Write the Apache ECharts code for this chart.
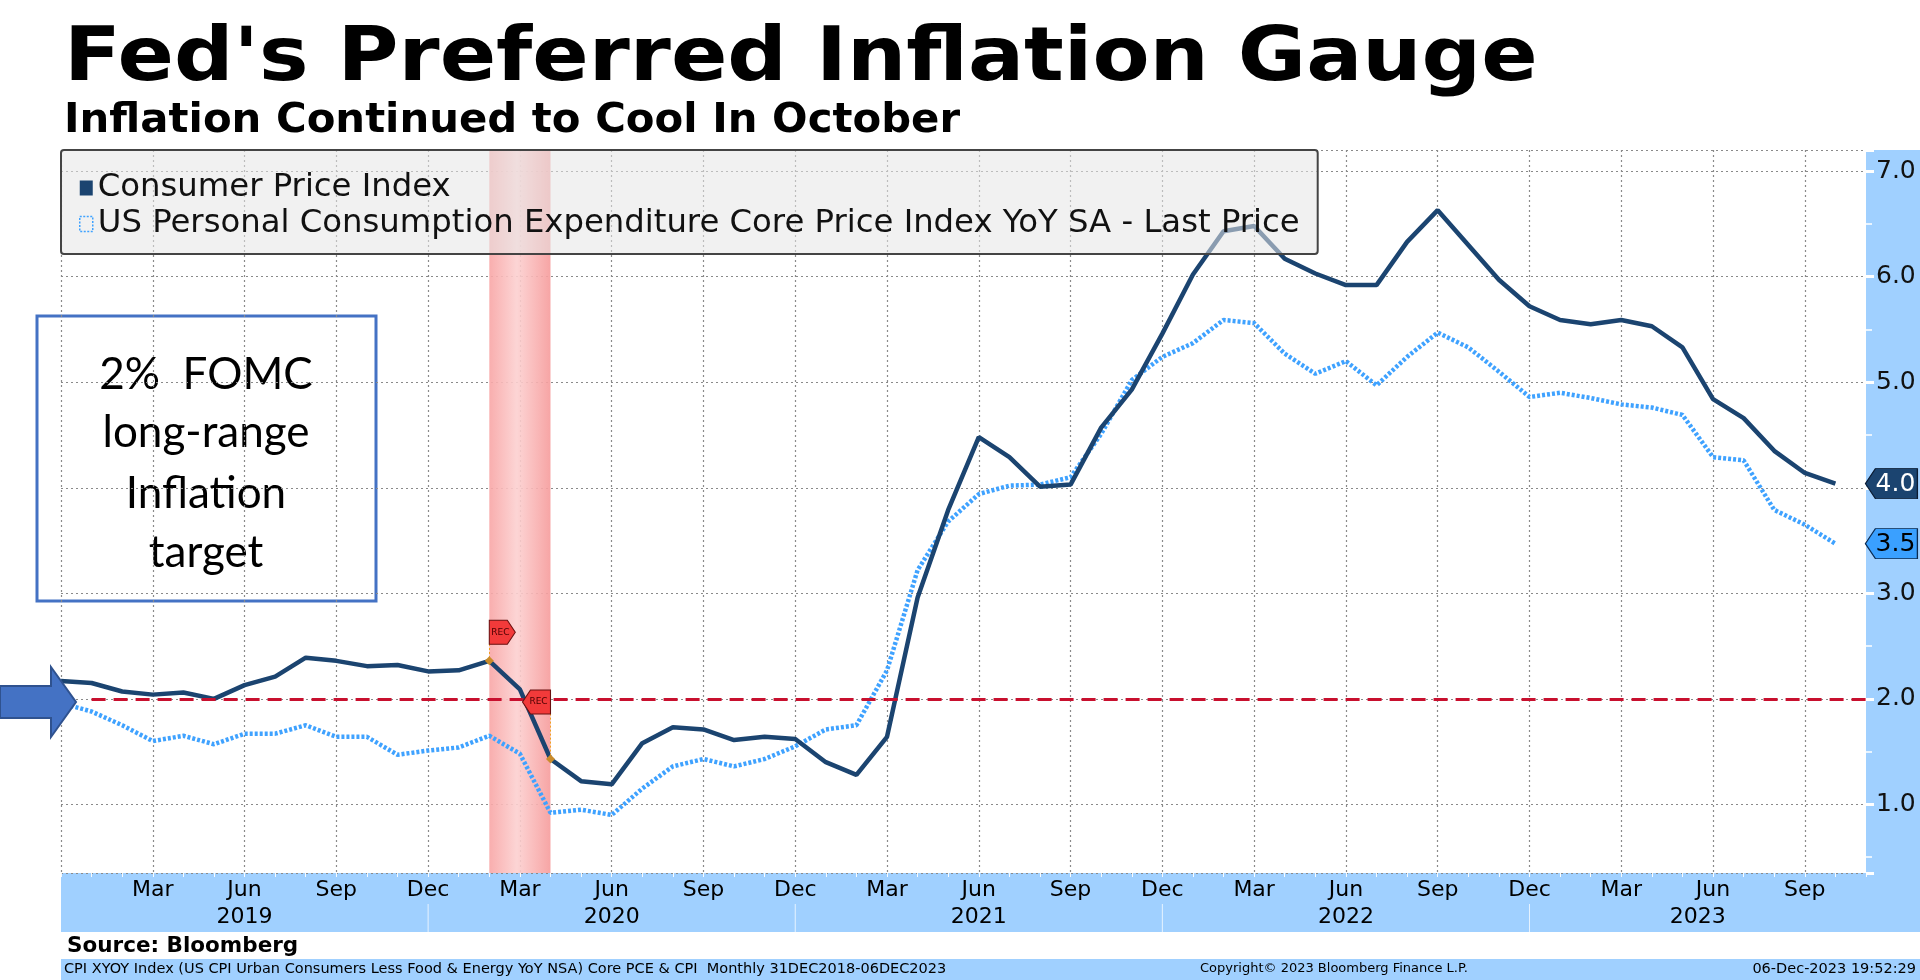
<!DOCTYPE html>
<html>
<head>
<meta charset="utf-8">
<title>Fed's Preferred Inflation Gauge</title>
<script src="https://cdn.jsdelivr.net/npm/echarts/dist/echarts.min.js"></script>
<style>
html, body { margin: 0; padding: 0; background: #fff; }
#chart { width: 1920px; height: 980px; }
</style>
</head>
<body>
<div id="chart"></div>
<script>
// monthly points, Dec 2018 .. Nov 2023 (last month has no value yet)
var months = [
	'Dec 2018',
	'Jan 2019','Feb 2019','Mar 2019','Apr 2019','May 2019','Jun 2019','Jul 2019','Aug 2019','Sep 2019','Oct 2019','Nov 2019','Dec 2019',
	'Jan 2020','Feb 2020','Mar 2020','Apr 2020','May 2020','Jun 2020','Jul 2020','Aug 2020','Sep 2020','Oct 2020','Nov 2020','Dec 2020',
	'Jan 2021','Feb 2021','Mar 2021','Apr 2021','May 2021','Jun 2021','Jul 2021','Aug 2021','Sep 2021','Oct 2021','Nov 2021','Dec 2021',
	'Jan 2022','Feb 2022','Mar 2022','Apr 2022','May 2022','Jun 2022','Jul 2022','Aug 2022','Sep 2022','Oct 2022','Nov 2022','Dec 2022',
	'Jan 2023','Feb 2023','Mar 2023','Apr 2023','May 2023','Jun 2023','Jul 2023','Aug 2023','Sep 2023','Oct 2023','Nov 2023'
];

var cpi = [2.17,
	2.15, 2.07, 2.04, 2.06, 2.00, 2.13, 2.21, 2.39, 2.36, 2.31, 2.32, 2.26,
	2.27, 2.36, 2.09, 1.43, 1.22, 1.19, 1.58, 1.73, 1.71, 1.61, 1.64, 1.62,
	1.40, 1.28, 1.64, 2.96, 3.79, 4.48, 4.29, 4.01, 4.03, 4.57, 4.93, 5.46,
	6.02, 6.43, 6.48, 6.17, 6.03, 5.92, 5.92, 6.33, 6.63, 6.30, 5.97, 5.72,
	5.59, 5.55, 5.59, 5.53, 5.33, 4.84, 4.66, 4.35, 4.14, 4.04];

var pce = [1.96,
	1.88, 1.75, 1.60, 1.65, 1.57, 1.67, 1.67, 1.75, 1.64, 1.64, 1.47, 1.51,
	1.54, 1.65, 1.48, 0.92, 0.95, 0.90, 1.15, 1.36, 1.43, 1.36, 1.43, 1.55,
	1.71, 1.75, 2.27, 3.22, 3.68, 3.94, 4.02, 4.03, 4.10, 4.51, 5.02, 5.24,
	5.37, 5.59, 5.56, 5.27, 5.08, 5.20, 4.97, 5.24, 5.47, 5.33, 5.10, 4.86,
	4.90, 4.85, 4.79, 4.76, 4.69, 4.29, 4.26, 3.79, 3.65, 3.47];

var yearLabels = ['2019', '2020', '2021', '2022', '2023'];
var yearStart = [0, 12, 24, 36, 48];
var yearEnd = [12, 24, 36, 48, 59];

var recStart = 'Feb 2020';
var recEnd = 'Apr 2020';
var targetRate = 2;
var targetFrom = 'Jan 2019';

var cpiName = 'Consumer Price Index';
var pceName = 'US Personal Consumption Expenditure Core Price Index YoY SA - Last Price';

var NAVY = '#1b4470';
var SKY = '#3fa2ff';
var BAND = '#a0d0ff';
var FONT = 'DejaVu Sans';

var last = cpi.length - 1;

function renderYear(params, api) {
	var x0 = api.coord([api.value(0), 1])[0];
	var x1 = api.coord([api.value(1), 1])[0];
	var bottom = params.coordSys.y + params.coordSys.height;
	var kids = [{
		type: 'text',
		x: (x0 + x1) / 2,
		y: bottom + 44,
		style: {
			text: yearLabels[params.dataIndex],
			textAlign: 'center',
			textVerticalAlign: 'middle',
			fontFamily: FONT,
			fontSize: 22,
			fill: '#000'
		}
	}];
	if (params.dataIndex < yearLabels.length - 1) {
		kids.push({
			type: 'line',
			shape: { x1: x1, y1: bottom + 31, x2: x1, y2: bottom + 59 },
			style: { stroke: 'rgba(255,255,255,0.75)', lineWidth: 1 }
		});
	}
	return { type: 'group', children: kids };
}

var option = {
	animation: false,
	backgroundColor: '#fff',
	grid: {
		left: 61,
		right: 54,
		top: 150,
		bottom: 107,
		show: true,
		backgroundColor: '#fff',
		borderWidth: 0
	},
	legend: {
		orient: 'vertical',
		left: 61,
		top: 150,
		padding: [22, 18, 14, 18],
		itemGap: 4,
		itemWidth: 13,
		itemHeight: 15,
		selectedMode: false,
		backgroundColor: 'rgba(230,230,230,0.55)',
		borderColor: '#444',
		borderWidth: 2,
		borderRadius: 3,
		z: 10,
		textStyle: { fontFamily: FONT, fontSize: 32.3, color: '#111' },
		data: [
			{ name: cpiName, icon: 'rect', itemStyle: { color: NAVY } },
			{ name: pceName, icon: 'rect', itemStyle: { color: 'rgba(0,0,0,0)', borderColor: SKY, borderWidth: 1.5, borderType: [2, 1.5] } }
		]
	},
	xAxis: {
		type: 'category',
		data: months,
		boundaryGap: false,
		axisLine: { show: false },
		axisTick: {
			show: true,
			interval: 0,
			length: 4,
			lineStyle: { color: 'rgba(255,255,255,0.9)', width: 1 }
		},
		axisLabel: {
			interval: function (i) { return i > 0 && i % 3 === 0; },
			formatter: function (v) { return v.slice(0, 3); },
			fontFamily: FONT,
			fontSize: 22,
			color: '#000',
			margin: 6
		},
		splitLine: {
			show: true,
			interval: function (i) { return i % 3 === 0; },
			lineStyle: { color: '#8a8a8a', type: [2, 3], width: 1.2 }
		}
	},
	yAxis: {
		type: 'value',
		position: 'right',
		min: 0.35,
		max: 7.2,
		minInterval: 1,
		maxInterval: 1,
		axisLine: { show: false },
		axisTick: { show: true, length: 8, lineStyle: { color: '#fff', width: 3 } },
		minorTick: { show: true, splitNumber: 2, length: 6, lineStyle: { color: '#fff', width: 1.5 } },
		axisLabel: {
			showMinLabel: false,
			showMaxLabel: false,
			formatter: function (v) { return v.toFixed(1); },
			fontFamily: FONT,
			fontSize: 25,
			color: '#111',
			margin: 10
		},
		splitLine: {
			show: true,
			lineStyle: { color: '#8a8a8a', type: [2, 3], width: 1.2 }
		}
	},
	series: [
		{
			// recession shading and the 2% target
			name: 'rec',
			type: 'line',
			data: [],
			z: 1,
			silent: true,
			markArea: {
				silent: true,
				itemStyle: {
					color: {
						type: 'linear', x: 0, y: 0, x2: 1, y2: 0,
						colorStops: [
							{ offset: 0, color: 'rgba(248,165,165,0.9)' },
							{ offset: 0.45, color: 'rgba(252,208,208,0.9)' },
							{ offset: 1, color: 'rgba(246,155,155,0.9)' }
						]
					}
				},
				data: [[{ xAxis: recStart }, { xAxis: recEnd }]]
			},
			markLine: {
				silent: true,
				symbol: 'none',
				label: { show: false },
				lineStyle: { color: '#c8102e', type: [14, 8], width: 3 },
				data: [[{ coord: [targetFrom, targetRate] }, { coord: [months[months.length - 1], targetRate] }]]
			}
		},
		{
			name: pceName,
			type: 'line',
			data: pce,
			symbol: 'none',
			z: 3,
			lineStyle: { color: SKY, width: 4.5, type: [3, 2] },
			markPoint: {
				silent: true,
				data: [{
					coord: [months[last], pce[last]],
					value: pce[last].toFixed(1),
					symbol: 'path://M0,15 L10,0 L52,0 L52,30 L10,30 Z',
					symbolSize: [52, 30],
					symbolOffset: [56, 0],
					itemStyle: { color: '#3aa0ff', borderColor: '#0a2a50', borderWidth: 1 },
					label: { show: true, formatter: '{c}', color: '#000', fontFamily: FONT, fontSize: 25, offset: [4, 1] }
				}]
			}
		},
		{
			name: cpiName,
			type: 'line',
			data: cpi,
			symbol: 'none',
			z: 4,
			lineStyle: { color: NAVY, width: 4.5 },
			markLine: {
				silent: true,
				symbol: 'none',
				label: { show: false },
				lineStyle: { color: '#f0a020', type: [2, 2], width: 1 },
				data: [
					[{ coord: [recStart, 2.52] }, { coord: [recStart, cpi[months.indexOf(recStart)]] }],
					[{ coord: [recEnd, 1.86] }, { coord: [recEnd, cpi[months.indexOf(recEnd)]] }]
				]
			},
			markPoint: {
				silent: true,
				data: [
					{
						coord: [recStart, cpi[months.indexOf(recStart)]],
						symbol: 'diamond', symbolSize: 9,
						itemStyle: { color: '#c98b2a' }, label: { show: false }
					},
					{
						coord: [recEnd, cpi[months.indexOf(recEnd)]],
						symbol: 'diamond', symbolSize: 9,
						itemStyle: { color: '#c98b2a' }, label: { show: false }
					},
					{
						coord: [recStart, 2.63],
						value: 'REC',
						symbol: 'path://M0,0 L18,0 L26,12 L18,24 L0,24 Z',
						symbolSize: [26, 24],
						symbolOffset: [13, 0],
						itemStyle: { color: '#f23a3a', borderColor: '#6a1010', borderWidth: 1 },
						label: { show: true, formatter: '{c}', color: '#4a0000', fontFamily: FONT, fontSize: 9, offset: [-2, 0] }
					},
					{
						coord: [recEnd, 1.97],
						value: 'REC',
						symbol: 'path://M8,0 L28,0 L28,24 L8,24 L0,12 Z',
						symbolSize: [28, 24],
						symbolOffset: [-14, 0],
						itemStyle: { color: '#f23a3a', borderColor: '#6a1010', borderWidth: 1 },
						label: { show: true, formatter: '{c}', color: '#4a0000', fontFamily: FONT, fontSize: 9, offset: [2, 0] }
					},
					{
						coord: [months[last], cpi[last]],
						value: cpi[last].toFixed(1),
						symbol: 'path://M0,15 L10,0 L52,0 L52,30 L10,30 Z',
						symbolSize: [52, 30],
						symbolOffset: [56, 0],
						itemStyle: { color: NAVY, borderColor: '#0a1a30', borderWidth: 1 },
						label: { show: true, formatter: '{c}', color: '#fff', fontFamily: FONT, fontSize: 25, offset: [4, 1] }
					}
				]
			}
		},
		{
			// year row of the time axis
			name: 'years',
			type: 'custom',
			silent: true,
			z: 5,
			renderItem: renderYear,
			encode: { x: [0, 1] },
			data: yearStart.map(function (s, k) { return [s, yearEnd[k]]; })
		}
	],
	graphic: [
		{ type: 'rect', z: -1, shape: { x: 1866, y: 150, width: 54, height: 782 }, style: { fill: BAND } },
		{ type: 'rect', z: -1, shape: { x: 61, y: 873, width: 1859, height: 59 }, style: { fill: BAND } },
		{ type: 'rect', z: -1, shape: { x: 61, y: 959, width: 1859, height: 21 }, style: { fill: BAND } },
		{
			type: 'text', x: 64, y: 24, scaleX: 1.125, z: 10,
			style: { text: "Fed's Preferred Inflation Gauge", fontFamily: FONT, fontWeight: 'bold', fontSize: 74, fill: '#000' }
		},
		{
			type: 'text', x: 64, y: 101, scaleX: 1.02, z: 10,
			style: { text: 'Inflation Continued to Cool In October', fontFamily: FONT, fontWeight: 'bold', fontSize: 41, fill: '#000' }
		},
		{
			type: 'text', left: 67, top: 935, z: 10,
			style: { text: 'Source: Bloomberg', fontFamily: FONT, fontWeight: 'bold', fontSize: 21.5, fill: '#000' }
		},
		{
			type: 'text', left: 64, top: 962, z: 10,
			style: { text: 'CPI XYOY Index (US CPI Urban Consumers Less Food & Energy YoY NSA) Core PCE & CPI  Monthly 31DEC2018-06DEC2023', fontFamily: FONT, fontSize: 14.5, fill: '#000' }
		},
		{
			type: 'text', left: 1200, top: 962, z: 10,
			style: { text: 'Copyright\u00a9 2023 Bloomberg Finance L.P.', fontFamily: FONT, fontSize: 13, fill: '#000' }
		},
		{
			type: 'text', right: 4, top: 962, z: 10,
			style: { text: '06-Dec-2023 19:52:29', fontFamily: FONT, fontSize: 14.5, fill: '#000' }
		},
		{
			type: 'polygon', z: 10,
			shape: { points: [[0, 686], [51, 686], [51, 667], [76, 702], [51, 737], [51, 718], [0, 718]] },
			style: { fill: '#4472c4', stroke: '#2f528f', lineWidth: 2 }
		},
		{
			type: 'group', z: 10,
			children: [
				{ type: 'rect', shape: { x: 37, y: 316, width: 339, height: 285 }, style: { fill: '#fff', stroke: '#4472c4', lineWidth: 3 } },
				{ type: 'text', x: 206, y: 375, style: { text: '2%  FOMC', textAlign: 'center', textVerticalAlign: 'middle', fontFamily: 'Lato', fontSize: 44, fill: '#000' } },
				{ type: 'text', x: 206, y: 433, style: { text: 'long-range', textAlign: 'center', textVerticalAlign: 'middle', fontFamily: 'Lato', fontSize: 44, fill: '#000' } },
				{ type: 'text', x: 206, y: 494, style: { text: 'Inflation', textAlign: 'center', textVerticalAlign: 'middle', fontFamily: 'Lato', fontSize: 44, fill: '#000' } },
				{ type: 'text', x: 206, y: 553, style: { text: 'target', textAlign: 'center', textVerticalAlign: 'middle', fontFamily: 'Lato', fontSize: 44, fill: '#000' } }
			]
		}
	]
};

var myChart = echarts.init(document.getElementById('chart'));
myChart.setOption(option, true);
</script>
</body>
</html>
